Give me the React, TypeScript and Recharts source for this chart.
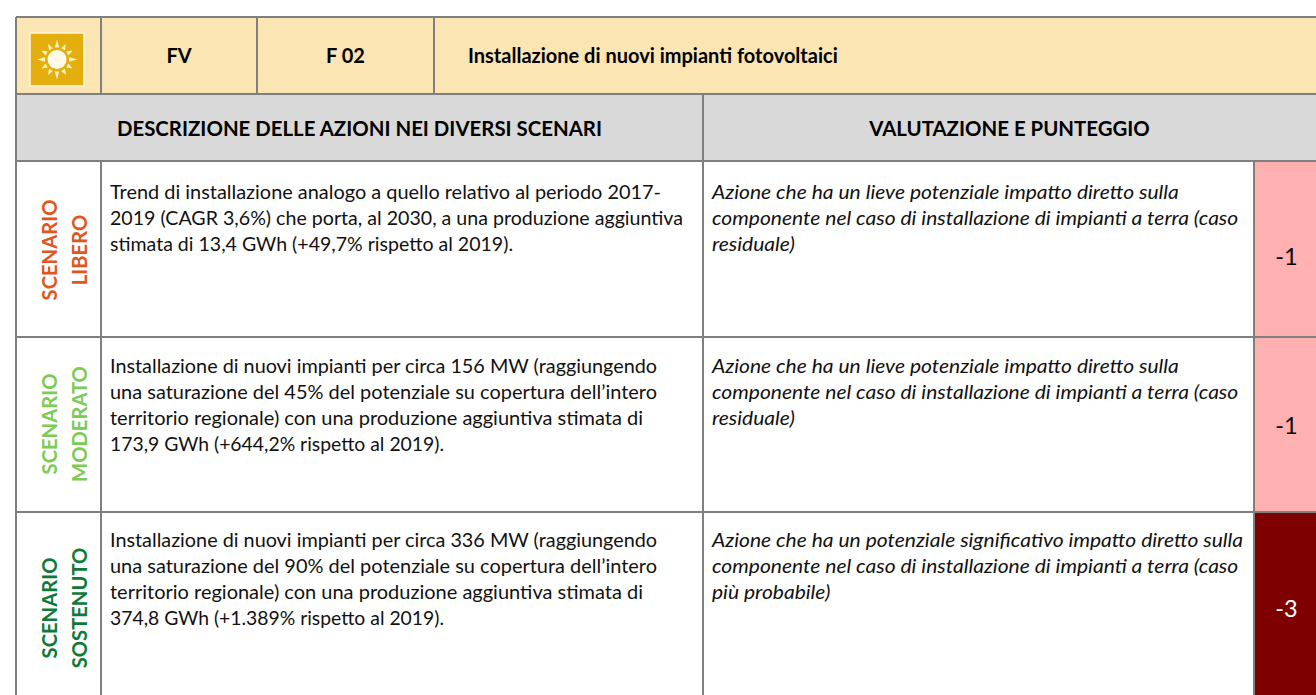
import React from "react";
import { ComposedChart, ReferenceArea, ReferenceLine, XAxis, YAxis } from "recharts";

const WIDTH = 1316;
const HEIGHT = 695;

// table contents
const headerCode = ["FV", "F 02"];
const headerTitle = "Installazione di nuovi impianti fotovoltaici";
const sectionTitles = ["DESCRIZIONE DELLE AZIONI NEI DIVERSI SCENARI", "VALUTAZIONE E PUNTEGGIO"];
const scenarioNames = [
  ["SCENARIO", "LIBERO"],
  ["SCENARIO", "MODERATO"],
  ["SCENARIO", "SOSTENUTO"],
];
const descriptions = [
  [
    "Trend di installazione analogo a quello relativo al periodo 2017-",
    "2019 (CAGR 3,6%) che porta, al 2030, a una produzione aggiuntiva",
    "stimata di 13,4 GWh (+49,7% rispetto al 2019).",
  ],
  [
    "Installazione di nuovi impianti per circa 156 MW (raggiungendo",
    "una saturazione del 45% del potenziale su copertura dell’intero",
    "territorio regionale) con una produzione aggiuntiva stimata di",
    "173,9 GWh (+644,2% rispetto al 2019).",
  ],
  [
    "Installazione di nuovi impianti per circa 336 MW (raggiungendo",
    "una saturazione del 90% del potenziale su copertura dell’intero",
    "territorio regionale) con una produzione aggiuntiva stimata di",
    "374,8 GWh (+1.389% rispetto al 2019).",
  ],
];
const evaluations = [
  [
    "Azione che ha un lieve potenziale impatto diretto sulla",
    "componente nel caso di installazione di impianti a terra (caso",
    "residuale)",
  ],
  [
    "Azione che ha un lieve potenziale impatto diretto sulla",
    "componente nel caso di installazione di impianti a terra (caso",
    "residuale)",
  ],
  [
    "Azione che ha un potenziale significativo impatto diretto sulla",
    "componente nel caso di installazione di impianti a terra (caso",
    "più probabile)",
  ],
];
const scores = [-1, -1, -3];

// layout, in axis units
const colX = [16, 101, 257, 434, 703, 1254, WIDTH];
const rowY = [17, 94, 161, 337, 512, HEIGHT];
const firstBaseline = [199, 373, 547];
const scenarioMid = [250, 424, 608];
const scoreBaseline = [265, 434, 617];
// line widths of the description column, Lato runs narrower than the original face here
const descWidths = [
  [551, 573, 403],
  [547, 547, 533, 334],
  [547, 547, 533, 334],
];
const scenarioColors = ["#e0561e", "#7ccb55", "#0e7a3a"];
const LINE = "#7f7f7f";
const FONT = "Lato, Carlito, sans-serif";
const HEAD_SIZE = 20;

const Lines = ({ x, y, lines, italic, scaleX = 1, widths }: any) => (
  <g
    transform={`translate(${x} 0) scale(${scaleX} 1)`}
    fontFamily={FONT}
    fontSize={19.3}
    fontStyle={italic ? "italic" : "normal"}
    fill="#111"
  >
    {lines.map((l: string, i: number) => (
      <text
        key={i}
        x={0}
        y={y + i * 26.1}
        textLength={widths ? widths[i] : undefined}
        lengthAdjust={widths ? "spacingAndGlyphs" : undefined}
      >
        {l}
      </text>
    ))}
  </g>
);

const Sun = (p: any) => {
  const cx = p.x + p.width / 2;
  const cy = p.y + p.height / 2;
  const rays = [0, 30, 60, 90, 120, 150, 180, 210, 240, 270, 300, 330];
  return (
    <g>
      <rect x={p.x} y={p.y} width={p.width} height={p.height} fill="#e5ae0f" stroke="#fdf6e0" strokeWidth={1.5} />
      <circle cx={cx} cy={cy} r={9.5} fill="#fffbe8" />
      {rays.map((a) => (
        <polygon
          key={a}
          points={`${cx - 2.2},${cy - 12} ${cx + 2.2},${cy - 12} ${cx},${cy - (a % 90 === 0 ? 20 : 18)}`}
          fill="#fff3c4"
          transform={`rotate(${a} ${cx} ${cy})`}
        />
      ))}
    </g>
  );
};

const Cell = ({ x1, x2, y1, y2, fill, children }: any) => (
  <ReferenceArea
    x1={x1}
    x2={x2}
    y1={y1}
    y2={y2}
    ifOverflow="visible"
    shape={(p: any) => (
      <g>
        <rect x={p.x} y={p.y} width={p.width} height={p.height} fill={fill} />
        {children ? children(p) : null}
      </g>
    )}
  />
);

const centered = (p: any, txt: string, size: number, dy: number) => (
  <text
    x={p.x + p.width / 2}
    y={p.y + p.height / 2 + dy}
    textAnchor="middle"
    fontFamily={FONT}
    fontSize={size}
    fontWeight={700}
    fill="#000"
  >
    {txt}
  </text>
);

export default function App() {
  return (
    <div style={{ position: "absolute", left: 0, top: 0, width: WIDTH, height: HEIGHT, background: "#fff" }}>
      <ComposedChart width={WIDTH} height={HEIGHT} data={scores.map((score) => ({ score }))} margin={{ top: 0, right: 0, bottom: 0, left: 0 }}>
        <XAxis type="number" dataKey="score" domain={[0, WIDTH]} hide allowDataOverflow />
        <YAxis type="number" domain={[0, HEIGHT]} reversed hide allowDataOverflow />

        {/* yellow title row */}
        <ReferenceArea x1={colX[0]} x2={WIDTH} y1={rowY[0]} y2={rowY[1]} fill="#fae5b3" fillOpacity={1} stroke="none" ifOverflow="visible" />
        <ReferenceArea x1={30} x2={84} y1={33} y2={86} ifOverflow="visible" shape={Sun} />
        {Cell({ x1: colX[1], x2: colX[2], y1: rowY[0], y2: rowY[1], fill: "#fae5b3", children: (p: any) => centered(p, headerCode[0], HEAD_SIZE, 7.5) })}
        {Cell({ x1: colX[2], x2: colX[3], y1: rowY[0], y2: rowY[1], fill: "#fae5b3", children: (p: any) => centered(p, headerCode[1], HEAD_SIZE, 7.5) })}
        {Cell({
          x1: colX[3],
          x2: WIDTH,
          y1: rowY[0],
          y2: rowY[1],
          fill: "#fae5b3",
          children: (p: any) => (
            <text x={p.x + 34} y={p.y + p.height / 2 + 7.5} fontFamily={FONT} fontSize={HEAD_SIZE} fontWeight={700} fill="#000">
              {headerTitle}
            </text>
          ),
        })}

        {/* grey section row */}
        {Cell({ x1: colX[0], x2: colX[4], y1: rowY[1], y2: rowY[2], fill: "#d9d9d9", children: (p: any) => centered(p, sectionTitles[0], 20.4, 8.5) })}
        {Cell({ x1: colX[4], x2: WIDTH, y1: rowY[1], y2: rowY[2], fill: "#d9d9d9", children: (p: any) => centered(p, sectionTitles[1], 20.4, 8.5) })}

        {/* scenario rows */}
        {scenarioNames.map((name, i) => (
          <React.Fragment key={i}>
            {Cell({
              x1: colX[0],
              x2: colX[1],
              y1: rowY[i + 2],
              y2: rowY[i + 3],
              fill: "#fff",
              children: (p: any) => (
                <g fontFamily={FONT} fontSize={20.2} fontWeight={700} fill={scenarioColors[i]} textAnchor="middle">
                  <text transform={`translate(${p.x + 41} ${scenarioMid[i]}) rotate(-90)`}>{name[0]}</text>
                  <text transform={`translate(${p.x + 71} ${scenarioMid[i]}) rotate(-90)`}>{name[1]}</text>
                </g>
              ),
            })}
            {Cell({
              x1: colX[1],
              x2: colX[4],
              y1: rowY[i + 2],
              y2: rowY[i + 3],
              fill: "#fff",
              children: (p: any) => <Lines x={p.x + 9} y={firstBaseline[i]} lines={descriptions[i]} widths={descWidths[i]} />,
            })}
            {Cell({
              x1: colX[4],
              x2: colX[5],
              y1: rowY[i + 2],
              y2: rowY[i + 3],
              fill: "#fff",
              children: (p: any) => <Lines x={p.x + 9} y={firstBaseline[i]} lines={evaluations[i]} italic scaleX={1.09} />,
            })}
            {Cell({
              x1: colX[5],
              x2: colX[6],
              y1: rowY[i + 2],
              y2: rowY[i + 3],
              fill: scores[i] <= -3 ? "#7f0000" : "#ffb0b0",
              children: (p: any) => (
                <text
                  x={p.x + p.width / 2 + 1.5}
                  y={scoreBaseline[i]}
                  textAnchor="middle"
                  fontFamily={FONT}
                  fontSize={23.5}
                  fill={scores[i] <= -3 ? "#fff" : "#000"}
                >
                  {scores[i]}
                </text>
              ),
            })}
          </React.Fragment>
        ))}

        {/* grid lines */}
        <ReferenceLine segment={[{ x: colX[0], y: rowY[0] }, { x: WIDTH, y: rowY[0] }]} stroke={LINE} strokeWidth={2} ifOverflow="visible" />
        <ReferenceLine segment={[{ x: colX[0], y: rowY[1] }, { x: WIDTH, y: rowY[1] }]} stroke={LINE} strokeWidth={2} ifOverflow="visible" />
        {rowY.slice(2, 5).map((y) => (
          <ReferenceLine key={y} segment={[{ x: colX[0], y }, { x: WIDTH, y }]} stroke={LINE} strokeWidth={2} ifOverflow="visible" />
        ))}
        <ReferenceLine segment={[{ x: colX[0], y: rowY[0] }, { x: colX[0], y: HEIGHT }]} stroke={LINE} strokeWidth={2} ifOverflow="visible" />
        <ReferenceLine segment={[{ x: colX[1], y: rowY[0] }, { x: colX[1], y: rowY[1] }]} stroke={LINE} strokeWidth={2} ifOverflow="visible" />
        <ReferenceLine segment={[{ x: colX[1], y: rowY[2] }, { x: colX[1], y: HEIGHT }]} stroke={LINE} strokeWidth={2} ifOverflow="visible" />
        <ReferenceLine segment={[{ x: colX[2], y: rowY[0] }, { x: colX[2], y: rowY[1] }]} stroke={LINE} strokeWidth={2} ifOverflow="visible" />
        <ReferenceLine segment={[{ x: colX[3], y: rowY[0] }, { x: colX[3], y: rowY[1] }]} stroke={LINE} strokeWidth={2} ifOverflow="visible" />
        <ReferenceLine segment={[{ x: colX[4], y: rowY[1] }, { x: colX[4], y: HEIGHT }]} stroke={LINE} strokeWidth={2} ifOverflow="visible" />
        <ReferenceLine segment={[{ x: colX[5], y: rowY[2] }, { x: colX[5], y: HEIGHT }]} stroke={LINE} strokeWidth={2} ifOverflow="visible" />
      </ComposedChart>
    </div>
  );
}
